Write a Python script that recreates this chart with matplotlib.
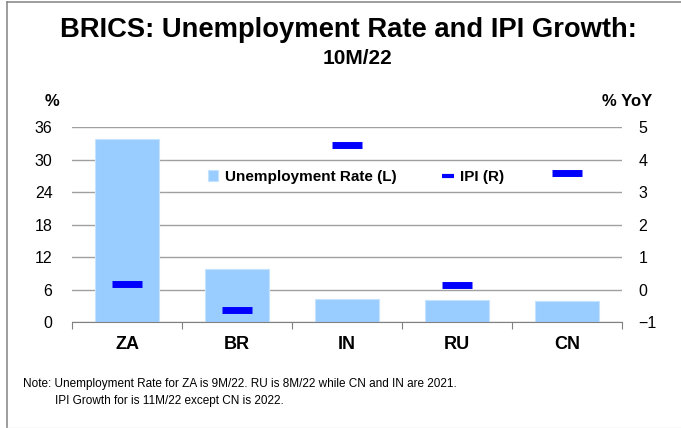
import matplotlib
matplotlib.use("Agg")
import matplotlib.pyplot as plt
from matplotlib.lines import Line2D
import numpy as np

plt.rcParams['font.family'] = ['Liberation Sans', 'DejaVu Sans']

categories = ["ZA", "BR", "IN", "RU", "CN"]
unemployment = [33.8, 9.8, 4.25, 4.05, 3.9]
ipi = [0.17, -0.63, 4.45, 0.14, 3.6]
left_ticks = [0, 6, 12, 18, 24, 30, 36]
right_ticks = [-1, 0, 1, 2, 3, 4, 5]

fig = plt.figure(figsize=(6.81, 4.28), dpi=100)
# frame lines (left, top, faint bottom)
fig.add_artist(Line2D([6.5/681, 6.5/681], [0, 1-2/428], transform=fig.transFigure,
                      color='#8C8C8C', lw=1.2))
fig.add_artist(Line2D([6.5/681, 1], [1-2/428, 1-2/428], transform=fig.transFigure,
                      color='#8C8C8C', lw=1.2))
fig.add_artist(Line2D([6.5/681, 1], [0.5/428, 0.5/428], transform=fig.transFigure,
                      color='#E0E0E0', lw=1.0))

ax = fig.add_axes([72/681, 1-322/428, (622-72)/681, (322-127)/428])
x = np.arange(len(categories))
ax.bar(x, unemployment, width=0.59, color='#99CCFF', edgecolor='#C5E2FF', lw=0.8,
       label='Unemployment Rate (L)', zorder=2)
ax.set_xlim(-0.5, len(categories)-0.5)
ax.set_ylim(0, 36)
ax.set_yticks(left_ticks)
ax.grid(axis='y', color='#A0A0A0', lw=1.0, zorder=0)
ax.set_axisbelow(True)
for s in ['top', 'left', 'right']:
    ax.spines[s].set_visible(False)
ax.spines['bottom'].set_color('#808080')
ax.tick_params(axis='y', length=0, labelsize=11.5, pad=14)
ax.set_xticks(np.arange(-0.5, len(categories), 1.0))
ax.set_xticklabels([])
ax.tick_params(axis='x', which='major', length=5, color='#808080', direction='out')
ax.set_xticks(x, minor=True)
ax.set_xticklabels(categories, minor=True, fontsize=13, fontweight='bold')
ax.tick_params(axis='x', which='minor', length=0, pad=10)

ax2 = ax.twinx()
ax2.plot(x, ipi, ls='none', marker='_', markersize=22, mew=5, color='#0000FF',
         label='IPI (R)', zorder=3)
ax2.set_ylim(-1, 5)
ax2.set_yticks(right_ticks)
for s in ['top', 'left', 'right', 'bottom']:
    ax2.spines[s].set_visible(False)
ax2.tick_params(axis='y', length=0, labelsize=11.5, pad=12)

h1, l1 = ax.get_legend_handles_labels()
l2 = ['IPI (R)']
h2 = [Line2D([], [], ls='none', marker='_', markersize=9, mew=3, color='#0000FF')]
leg = ax.legend(h1 + h2, l1 + l2, loc='center', bbox_to_anchor=(356/681, 1-177/428),
                bbox_transform=fig.transFigure, ncol=2, frameon=False,
                prop={'weight': 'bold', 'size': 11}, handlelength=0.7, handleheight=0.7,
                handletextpad=0.45, columnspacing=3.0)
leg.set_zorder(5)

fig.text(0.5 + 8/681, 1-30/428, "BRICS: Unemployment Rate and IPI Growth:", ha='center', va='center',
         fontsize=19.7, fontweight='bold')
fig.text(358/681, 1-58/428, "10M/22", ha='center', va='center', fontsize=15, fontweight='bold')
fig.text(52/681, 1-101/428, "%", ha='center', va='center', fontsize=12, fontweight='bold')
fig.text(627/681, 1-101/428, "% YoY", ha='center', va='center', fontsize=12, fontweight='bold')
fig.text(23/681, 1-384/428, "Note: Unemployment Rate for ZA is 9M/22. RU is 8M/22 while CN and IN are 2021.",
         ha='left', va='center', fontsize=8.5)
fig.text(55/681, 1-401/428, "IPI Growth for is 11M/22 except CN is 2022.",
         ha='left', va='center', fontsize=8.5)

fig.savefig("out.png", dpi=100)
